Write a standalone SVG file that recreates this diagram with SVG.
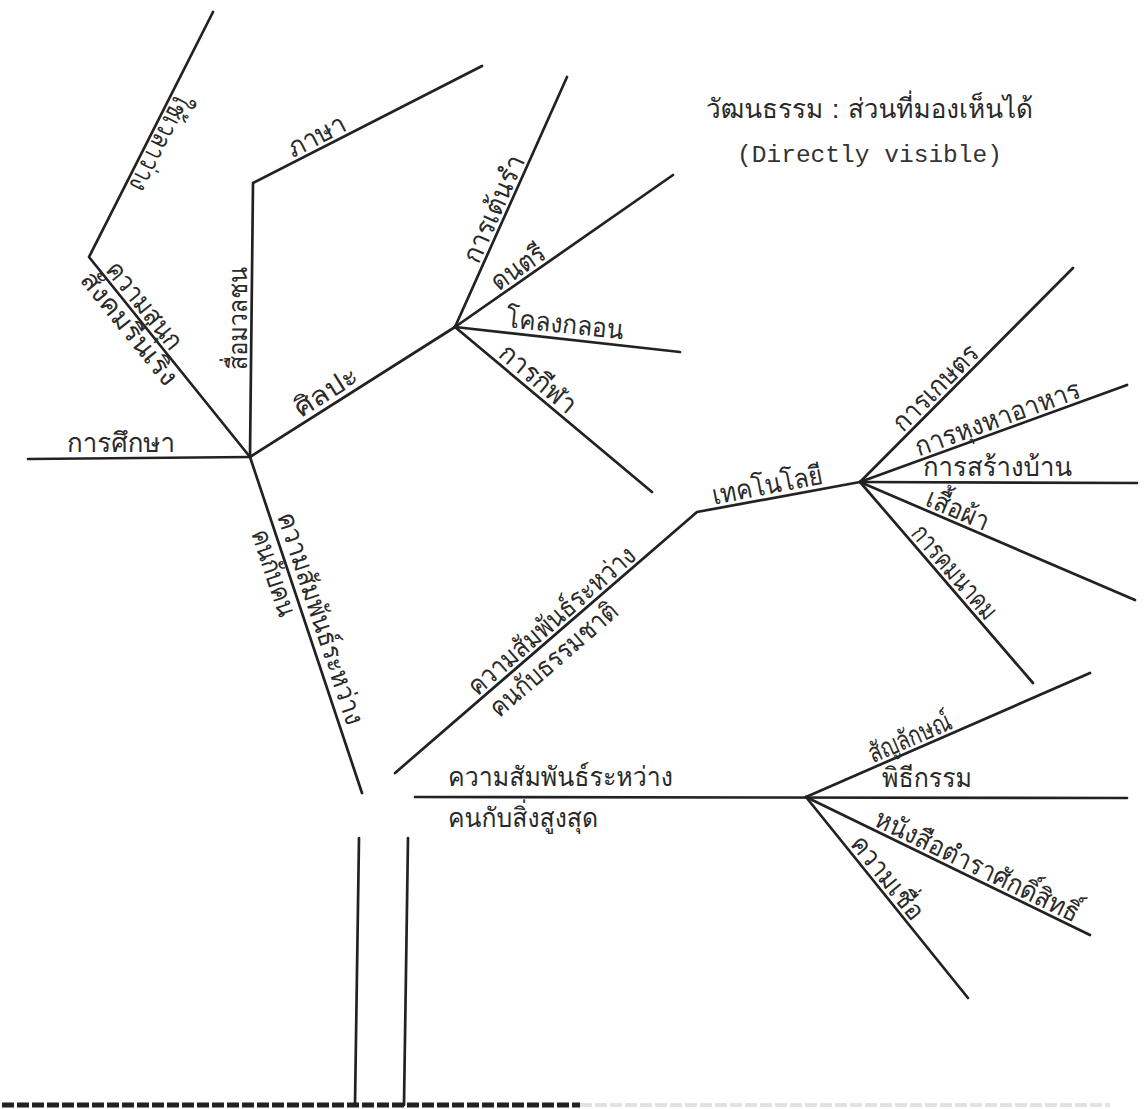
<svg xmlns="http://www.w3.org/2000/svg" width="1145" height="1109" viewBox="0 0 1145 1109">
  <style>
    .br { stroke: #222; stroke-width: 2.7; fill: none; stroke-linecap: round; stroke-linejoin: round; }
    .th { font-family: "Tlwg Typo", "Tlwg Typist", "Norasi", "Garuda", "Loma", "Kinnari", "Noto Sans Thai", "Noto Serif Thai", "Noto Sans", sans-serif; font-size: 27px; fill: #2a2a2a; }
    .en { font-family: "Liberation Mono", "DejaVu Sans Mono", monospace; font-size: 23px; fill: #333; }
    .dash { stroke: #222; stroke-width: 5; stroke-dasharray: 12 3; fill: none; }
    .dash2 { stroke: #e2e2e2; stroke-width: 4; stroke-dasharray: 12 3; fill: none; }
  </style>
  <rect width="1145" height="1109" fill="#ffffff"/>

  <!-- branch lines -->
  <g id="connectors">
    <polyline class="br" points="213,12 89,257 250,457"/>
    <line class="br" x1="28" y1="459" x2="250" y2="457"/>
    <polyline class="br" points="250,457 253,183 482,66"/>
    <line class="br" x1="250" y1="457" x2="455" y2="327"/>
    <line class="br" x1="455" y1="327" x2="567" y2="77"/>
    <line class="br" x1="455" y1="327" x2="673" y2="175"/>
    <line class="br" x1="455" y1="327" x2="680" y2="352"/>
    <line class="br" x1="455" y1="327" x2="652" y2="492"/>
    <line class="br" x1="250" y1="457" x2="362" y2="793"/>
    <polyline class="br" points="395,773 697,512 860,482"/>
    <line class="br" x1="860" y1="482" x2="1073" y2="268"/>
    <line class="br" x1="860" y1="482" x2="1127" y2="385"/>
    <line class="br" x1="860" y1="482" x2="1137" y2="483"/>
    <line class="br" x1="860" y1="482" x2="1135" y2="600"/>
    <line class="br" x1="860" y1="482" x2="1033" y2="683"/>
    <line class="br" x1="415" y1="797" x2="1127" y2="798"/>
    <line class="br" x1="806" y1="797" x2="1090" y2="673"/>
    <line class="br" x1="806" y1="797" x2="1090" y2="935"/>
    <line class="br" x1="806" y1="797" x2="968" y2="998"/>
    <line class="br" x1="359" y1="838" x2="355" y2="1105"/>
    <line class="br" x1="408" y1="838" x2="404" y2="1105"/>
    <line class="dash2" x1="580" y1="1105" x2="1110" y2="1105"/>
    <line class="dash" x1="2" y1="1105" x2="580" y2="1105"/>
  </g>

  <!-- heading -->
  <g id="title">
    <text class="th" x="706" y="118" textLength="327" lengthAdjust="spacingAndGlyphs">วัฒนธรรม : ส่วนที่มองเห็นได้</text>
    <text class="en" x="737" y="162" textLength="265" lengthAdjust="spacingAndGlyphs">(Directly visible)</text>
  </g>

  <!-- society cluster -->
  <g id="leisure">
    <text class="th" transform="translate(176.5,91) rotate(116.84)" textLength="106" lengthAdjust="spacingAndGlyphs">ใช้เวลาว่าง</text>
  </g>
  <g id="fun">
    <text class="th" transform="translate(104.6,270.1) rotate(51.16)" textLength="105" lengthAdjust="spacingAndGlyphs">ความสนุก</text>
    <text class="th" transform="translate(79,280.3) rotate(51.16)" textLength="138" lengthAdjust="spacingAndGlyphs">สังคมรื่นเริง</text>
  </g>
  <g id="education">
    <text class="th" x="67" y="452" textLength="108" lengthAdjust="spacingAndGlyphs">การศึกษา</text>
  </g>
  <g id="media">
    <text class="th" transform="translate(247,370) rotate(-90)" textLength="103" lengthAdjust="spacingAndGlyphs">สื่อมวลชน</text>
  </g>
  <g id="language">
    <text class="th" transform="translate(293,158) rotate(-27.06)" textLength="62" lengthAdjust="spacingAndGlyphs">ภาษา</text>
  </g>
  <g id="arts">
    <text class="th" transform="translate(301,418) rotate(-32.4)" textLength="70" lengthAdjust="spacingAndGlyphs">ศิลปะ</text>
  </g>
  <g id="dance">
    <text class="th" transform="translate(478.4,265.1) rotate(-65.87)" textLength="115" lengthAdjust="spacingAndGlyphs">การเต้นรำ</text>
  </g>
  <g id="music">
    <text class="th" transform="translate(498.6,291.7) rotate(-34.89)" textLength="60" lengthAdjust="spacingAndGlyphs">ดนตรี</text>
  </g>
  <g id="poetry">
    <text class="th" transform="translate(505.3,327.1) rotate(5.84)" textLength="118" lengthAdjust="spacingAndGlyphs">โคลงกลอน</text>
  </g>
  <g id="sport">
    <text class="th" transform="translate(497,356) rotate(39.95)" textLength="92" lengthAdjust="spacingAndGlyphs">การกีฬา</text>
  </g>
  <g id="people">
    <text class="th" transform="translate(277,516) rotate(71.58)" textLength="222" lengthAdjust="spacingAndGlyphs">ความสัมพันธ์ระหว่าง</text>
    <text class="th" transform="translate(251,533) rotate(71.58)" textLength="90" lengthAdjust="spacingAndGlyphs">คนกับคน</text>
  </g>

  <!-- nature / technology cluster -->
  <g id="nature">
    <text class="th" transform="translate(477.2,696.8) rotate(-40.83)" textLength="212" lengthAdjust="spacingAndGlyphs">ความสัมพันธ์ระหว่าง</text>
    <text class="th" transform="translate(499,718.5) rotate(-40.83)" textLength="160" lengthAdjust="spacingAndGlyphs">คนกับธรรมชาติ</text>
  </g>
  <g id="technology">
    <text class="th" transform="translate(714,504.7) rotate(-10.9)" textLength="112" lengthAdjust="spacingAndGlyphs">เทคโนโลยี</text>
  </g>
  <g id="agriculture">
    <text class="th" transform="translate(903,433) rotate(-45.13)" textLength="110" lengthAdjust="spacingAndGlyphs">การเกษตร</text>
  </g>
  <g id="food">
    <text class="th" transform="translate(918.8,456.4) rotate(-19.94)" textLength="174" lengthAdjust="spacingAndGlyphs">การหุงหาอาหาร</text>
  </g>
  <g id="housing">
    <text class="th" x="923" y="476" textLength="149" lengthAdjust="spacingAndGlyphs">การสร้างบ้าน</text>
  </g>
  <g id="clothing">
    <text class="th" transform="translate(924,505.1) rotate(23.21)" textLength="66" lengthAdjust="spacingAndGlyphs">เสื้อผ้า</text>
  </g>
  <g id="transport">
    <text class="th" transform="translate(910,534) rotate(49.3)" textLength="116" lengthAdjust="spacingAndGlyphs">การคมนาคม</text>
  </g>

  <!-- supreme being cluster -->
  <g id="supreme">
    <text class="th" x="448" y="786" textLength="225" lengthAdjust="spacingAndGlyphs">ความสัมพันธ์ระหว่าง</text>
    <text class="th" x="448" y="827" textLength="150" lengthAdjust="spacingAndGlyphs">คนกับสิ่งสูงสุด</text>
  </g>
  <g id="symbol">
    <text class="th" transform="translate(873.1,763.3) rotate(-23.59)" textLength="88" lengthAdjust="spacingAndGlyphs">สัญลักษณ์</text>
  </g>
  <g id="ritual">
    <text class="th" x="882" y="787" textLength="90" lengthAdjust="spacingAndGlyphs">พิธีกรรม</text>
  </g>
  <g id="scripture">
    <text class="th" transform="translate(872.5,824.9) rotate(25.92)" textLength="224" lengthAdjust="spacingAndGlyphs">หนังสือตำราศักดิ์สิทธิ์</text>
  </g>
  <g id="belief">
    <text class="th" transform="translate(849.2,844.3) rotate(51.14)" textLength="100" lengthAdjust="spacingAndGlyphs">ความเชื่อ</text>
  </g>
</svg>
